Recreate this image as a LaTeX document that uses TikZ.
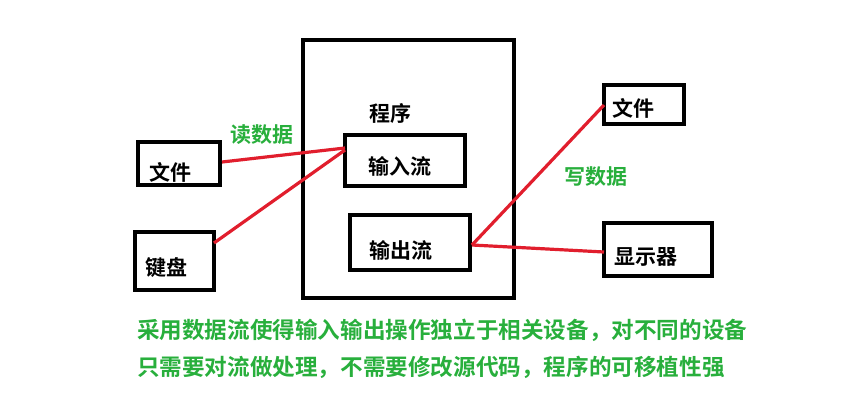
\documentclass[tikz,border=0pt]{standalone}
\usepackage{fontspec}
\newfontfamily\cjk{Noto Sans CJK SC}[BoldFont={Noto Sans CJK SC Bold}]
\definecolor{gr}{RGB}{40,175,60}
\definecolor{rd}{RGB}{225,30,45}
\begin{document}
\begin{tikzpicture}[x=0.5pt,y=-0.5pt,
  box/.style={draw,line width=2pt,inner sep=0},
  lbl/.style={font=\cjk\bfseries\fontsize{10.5}{12}\selectfont},
  glbl/.style={lbl,text=gr},
  wire/.style={rd,line width=1.6pt}]
\useasboundingbox (0,0) rectangle (862,402);
\draw[box] (303,40) rectangle (514,298);
\draw[box] (345,135) rectangle (465,186);
\draw[box] (350,215) rectangle (470,270);
\draw[box] (138,142) rectangle (220,185);
\draw[box] (135,232) rectangle (214,290);
\draw[box] (604,85) rectangle (684,124);
\draw[box] (604,223) rectangle (712,276);
\node[lbl] (prog) at (390,113) {程序};
\node[lbl] (in) at (400,166) {输入流};
\node[lbl] (out) at (401,250) {输出流};
\node[lbl] (f1) at (170,172) {文件};
\node[lbl] (kb) at (166,268) {键盘};
\node[lbl] (f2) at (633,108) {文件};
\node[lbl] (disp) at (646,257) {显示器};
\node[glbl] (rd) at (262,135) {读数据};
\node[glbl] (wr) at (596,177) {写数据};
\node[glbl,anchor=west,font=\cjk\bfseries\fontsize{11.3}{13}\selectfont] (t1) at (130,330) {采用数据流使得输入输出操作独立于相关设备，对不同的设备};
\node[glbl,anchor=west,font=\cjk\bfseries\fontsize{11.3}{13}\selectfont] (t2) at (130,367) {只需要对流做处理，不需要修改源代码，程序的可移植性强};
\coordinate (a) at (345,148);
\coordinate (o) at (472,245);
\draw[wire] (222,162) -- (a);
\draw[wire] (214,243) -- (345,150);
\draw[wire] (o) -- (604,105);
\draw[wire] (o) -- (604,252);
\end{tikzpicture}
\end{document}
